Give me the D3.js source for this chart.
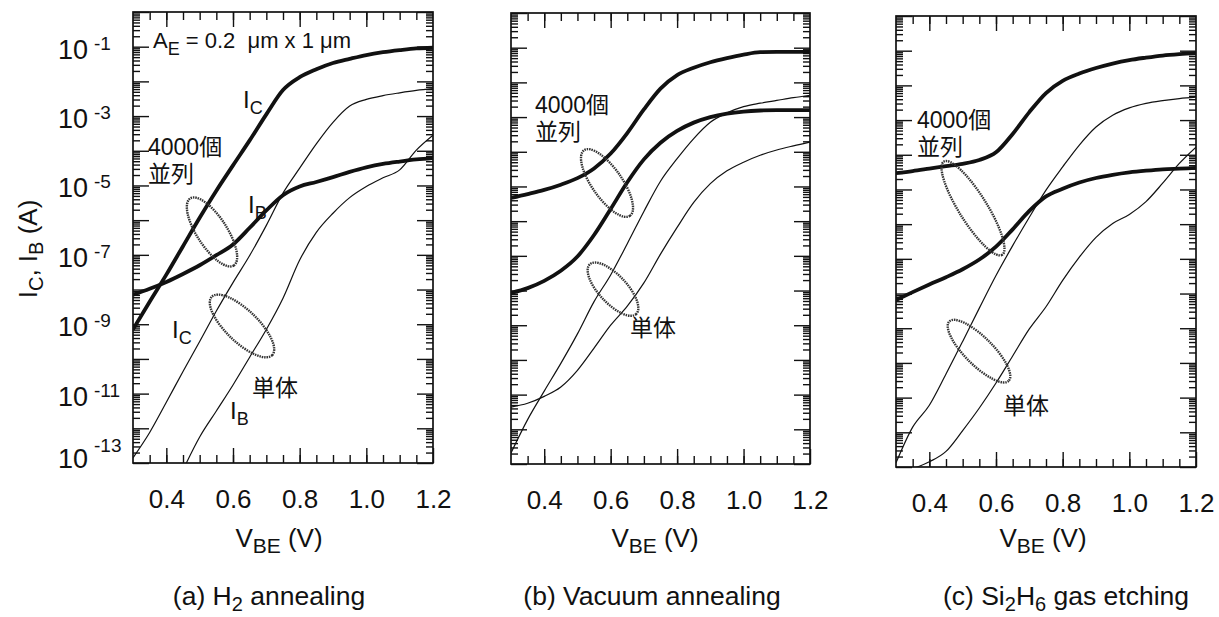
<!DOCTYPE html>
<html>
<head>
<meta charset="utf-8">
<script src="https://cdn.jsdelivr.net/npm/d3@7"></script>
<style>
  body { margin: 0; background: #fff; }
  svg text { font-family: "Liberation Sans", Arial, sans-serif; fill: #111; }
  svg text.jp { font-family: "Liberation Sans", "Noto Sans CJK JP", sans-serif; }
</style>
</head>
<body>
<div id="chart"></div>
<script>
// V_BE grid (V) shared by every curve
const vbe = [0.30, 0.35, 0.40, 0.45, 0.50, 0.55, 0.60, 0.65, 0.70, 0.75, 0.80, 0.85, 0.90, 0.95, 1.00, 1.05, 1.10, 1.15, 1.20];

// values are log10 of the current in A
// (a) H2 annealing
const icArrayA  = [-9.15, -8.35, -7.57, -6.75, -5.93, -5.15, -4.42, -3.70, -2.95, -2.25, -1.88, -1.65, -1.47, -1.35, -1.24, -1.16, -1.10, -1.05, -1.03];
const ibArrayA  = [-8.15, -7.98, -7.78, -7.55, -7.30, -7.01, -6.70, -6.22, -5.72, -5.28, -5.03, -4.90, -4.76, -4.61, -4.48, -4.38, -4.31, -4.25, -4.21];
const icSingleA = [-12.85, -12.12, -11.25, -10.36, -9.50, -8.62, -7.80, -7.02, -6.15, -5.22, -4.50, -3.80, -3.18, -2.71, -2.52, -2.41, -2.33, -2.26, -2.21];
const ibSingleA = [null, null, null, -13.2, -12.25, -11.50, -10.75, -9.95, -9.15, -8.25, -7.15, -6.35, -5.80, -5.35, -5.03, -4.78, -4.55, -3.98, -3.55];

// (b) Vacuum annealing
const icArrayB  = [-5.33, -5.22, -5.10, -4.95, -4.76, -4.48, -4.05, -3.46, -2.78, -2.18, -1.79, -1.58, -1.42, -1.30, -1.20, -1.13, -1.12, -1.12, -1.12];
const ibArrayB  = [-8.07, -7.93, -7.72, -7.43, -7.02, -6.40, -5.65, -4.88, -4.22, -3.74, -3.40, -3.16, -3.00, -2.90, -2.84, -2.81, -2.80, -2.80, -2.80];
const icSingleB = [-12.68, -11.72, -10.90, -10.10, -9.25, -8.32, -7.55, -6.65, -5.72, -4.85, -4.20, -3.62, -3.15, -2.88, -2.70, -2.60, -2.52, -2.44, -2.37];
const ibSingleB = [-11.36, -11.25, -11.05, -10.78, -10.30, -9.66, -9.00, -8.45, -7.78, -6.95, -6.18, -5.46, -4.92, -4.55, -4.30, -4.10, -3.95, -3.83, -3.72];

// (c) Si2H6 gas etching
const icArrayC  = [-4.53, -4.47, -4.40, -4.33, -4.26, -4.15, -3.93, -3.40, -2.77, -2.22, -1.87, -1.66, -1.50, -1.37, -1.27, -1.20, -1.14, -1.10, -1.07];
const ibArrayC  = [-8.19, -7.96, -7.74, -7.53, -7.30, -7.02, -6.65, -6.15, -5.62, -5.20, -4.98, -4.80, -4.67, -4.58, -4.51, -4.46, -4.42, -4.40, -4.38];
const icSingleC = [-12.88, -11.85, -11.22, -10.32, -9.38, -8.42, -7.48, -6.62, -5.80, -5.02, -4.35, -3.72, -3.20, -2.86, -2.65, -2.52, -2.44, -2.38, -2.34];
const ibSingleC = [null, -13.05, -12.85, -12.55, -11.95, -11.30, -10.58, -9.80, -9.02, -8.38, -7.62, -6.95, -6.38, -5.98, -5.72, -5.35, -4.82, -4.25, -3.78];

const xTickValues = [0.4, 0.6, 0.8, 1.0, 1.2];
const xTickLabels = ["0.4", "0.6", "0.8", "1.0", "1.2"];
const yTickExps = [-1, -3, -5, -7, -9, -11, -13];

const captions = [
  [["(a) H", 0], ["2", 1], [" annealing", 0]],
  [["(b) Vacuum annealing", 0]],
  [["(c) Si", 0], ["2", 1], ["H", 0], ["6", 1], [" gas etching", 0]]
];

const W = 1219, H = 617;

// frame of each panel plus where the notes sit (notes in data units: V, log10 I)
const panels = [
  { left: 133, right: 433, top: 12, bottom: 463, titleX: 279, capX: 269,
    series: [[icArrayA, true], [ibArrayA, true], [icSingleA, false], [ibSingleA, false]],
    rings: [{ v: 0.537, lg: -6.34, a: 40, b: 15, ang: 57 }, { v: 0.627, lg: -9.05, a: 42, b: 16, ang: 44 }],
    notes: [
      { v: 0.345, lg: -4.12, lines: ["4000個", "並列"], jp: true },
      { v: 0.657, lg: -11.07, lines: ["単体"], jp: true },
      { v: 0.630, lg: -2.77, t: "I", sub: "C" },
      { v: 0.645, lg: -5.80, t: "I", sub: "B" },
      { v: 0.417, lg: -9.40, t: "I", sub: "C" },
      { v: 0.591, lg: -11.72, t: "I", sub: "B" }
    ] },
  { left: 511, right: 810, top: 13, bottom: 464, titleX: 655, capX: 652,
    series: [[icArrayB, true], [ibArrayB, true], [icSingleB, false], [ibSingleB, false]],
    rings: [{ v: 0.589, lg: -4.90, a: 40, b: 15, ang: 55 }, { v: 0.607, lg: -7.96, a: 34, b: 14, ang: 47 }],
    notes: [
      { v: 0.372, lg: -2.88, lines: ["4000個", "並列"], jp: true },
      { v: 0.658, lg: -9.31, lines: ["単体"], jp: true }
    ] },
  { left: 896, right: 1196, top: 16, bottom: 467, titleX: 1043, capX: 1066,
    series: [[icArrayC, true], [ibArrayC, true], [icSingleC, false], [ibSingleC, false]],
    rings: [{ v: 0.531, lg: -5.54, a: 55, b: 14, ang: 58 }, { v: 0.549, lg: -9.66, a: 42, b: 14, ang: 45 }],
    notes: [
      { v: 0.363, lg: -3.23, lines: ["4000個", "並列"], jp: true },
      { v: 0.621, lg: -11.47, lines: ["単体"], jp: true }
    ] }
];

const svg = d3.select("#chart").append("svg")
  .attr("width", W).attr("height", H);

const majorY = d3.range(-13, 1).map(e => Math.pow(10, e));
const minorY = [];
d3.range(-13, 0).forEach(e => { for (let k = 2; k <= 9; k++) minorY.push(k * Math.pow(10, e)); });
const minorX = d3.range(7, 24).map(k => +(k * 0.05).toFixed(2));

panels.forEach((p, i) => {
  const x = d3.scaleLinear().domain([0.3, 1.2]).range([p.left, p.right]);
  const y = d3.scaleLog().domain([1e-13, 1]).range([p.bottom, p.top]);
  const g = svg.append("g");

  const clipId = "clip" + i;
  svg.append("clipPath").attr("id", clipId).append("rect")
    .attr("x", p.left).attr("y", p.top)
    .attr("width", p.right - p.left).attr("height", p.bottom - p.top);

  // ticks, all pointing inwards
  const tickStyle = sel => {
    sel.select(".domain").remove();
    sel.selectAll("line").attr("stroke", "#111").attr("stroke-width", 1.4);
  };
  g.append("g").attr("transform", `translate(${p.left},0)`)
    .call(d3.axisLeft(y).tickValues(majorY).tickSize(-16).tickFormat("")).call(tickStyle);
  g.append("g").attr("transform", `translate(${p.left},0)`)
    .call(d3.axisLeft(y).tickValues(minorY).tickSize(-7).tickFormat("")).call(tickStyle);
  g.append("g").attr("transform", `translate(${p.right},0)`)
    .call(d3.axisRight(y).tickValues(majorY).tickSize(-16).tickFormat("")).call(tickStyle);
  g.append("g").attr("transform", `translate(${p.right},0)`)
    .call(d3.axisRight(y).tickValues(minorY).tickSize(-7).tickFormat("")).call(tickStyle);
  g.append("g").attr("transform", `translate(0,${p.top})`)
    .call(d3.axisTop(x).tickValues(minorX).tickSize(-8).tickFormat("")).call(tickStyle);
  g.append("g").attr("transform", `translate(0,${p.top})`)
    .call(d3.axisTop(x).tickValues([0.4, 0.6, 0.8, 1.0]).tickSize(-15).tickFormat("")).call(tickStyle);
  g.append("g").attr("transform", `translate(0,${p.bottom})`)
    .call(d3.axisBottom(x).tickValues(minorX).tickSize(-8).tickFormat("")).call(tickStyle);

  const xAxis = g.append("g").attr("transform", `translate(0,${p.bottom})`)
    .call(d3.axisBottom(x).tickValues(xTickValues).tickSize(-15).tickPadding(27)
      .tickFormat((d, k) => xTickLabels[k]))
    .call(tickStyle);
  xAxis.selectAll("text").attr("font-size", 26).attr("fill", "#111")
    .attr("font-family", "Liberation Sans, Arial, sans-serif");

  g.append("rect")
    .attr("x", p.left).attr("y", p.top)
    .attr("width", p.right - p.left).attr("height", p.bottom - p.top)
    .attr("fill", "none").attr("stroke", "#111").attr("stroke-width", 1.7);

  // curves
  const line = d3.line()
    .defined(d => d[1] !== null)
    .x(d => x(d[0]))
    .y(d => y(Math.pow(10, d[1])))
    .curve(d3.curveMonotoneX);
  const curves = g.append("g").attr("clip-path", `url(#${clipId})`);
  p.series.forEach(([vals, thick]) => {
    curves.append("path")
      .attr("d", line(vbe.map((v, k) => [v, vals[k]])))
      .attr("fill", "none").attr("stroke", "#111")
      .attr("stroke-width", thick ? 3.8 : 1.2)
      .attr("stroke-linejoin", "round");
  });

  // dotted rings
  p.rings.forEach(r => {
    g.append("ellipse")
      .attr("transform", `translate(${x(r.v)},${y(Math.pow(10, r.lg))}) rotate(${r.ang})`)
      .attr("rx", r.a).attr("ry", r.b)
      .attr("fill", "none").attr("stroke", "#333")
      .attr("stroke-width", 2.4).attr("stroke-dasharray", "1.5 0.9");
  });

  // notes
  p.notes.forEach(n => {
    const px = x(n.v);
    const t = g.append("text")
      .attr("x", px).attr("y", y(Math.pow(10, n.lg)))
      .attr("font-size", n.jp ? 23 : 24);
    if (n.jp) {
      t.attr("class", "jp");
      n.lines.forEach((s, k) => {
        t.append("tspan").attr("x", px).attr("dy", k ? 27 : 0).text(s);
      });
    } else {
      t.append("tspan").text(n.t);
      t.append("tspan").attr("dy", 6).attr("font-size", 18).text(n.sub);
    }
  });

  // x axis title
  const xt = g.append("text").attr("x", p.titleX).attr("y", 547)
    .attr("text-anchor", "middle").attr("font-size", 26);
  xt.append("tspan").text("V");
  xt.append("tspan").attr("dy", 6).attr("font-size", 21).text("BE");
  xt.append("tspan").attr("dy", -6).text(" (V)");

  // caption
  const ct = g.append("text").attr("x", p.capX).attr("y", 605)
    .attr("text-anchor", "middle").attr("font-size", 26.5);
  captions[i].forEach(([s, sub], k) => {
    const prevSub = k > 0 && captions[i][k - 1][1];
    ct.append("tspan")
      .attr("dy", sub ? 6 : (prevSub ? -6 : 0))
      .attr("font-size", sub ? 20 : 26.5)
      .text(s);
  });

  if (i === 0) {
    // y tick labels 10^n
    yTickExps.forEach(e => {
      const yy = y(Math.pow(10, e));
      const last = e === -13;
      const t = g.append("text").attr("x", 58).attr("y", yy + (last ? 5 : 12))
        .attr("font-size", 27);
      t.append("tspan").text("10");
      t.append("tspan").attr("dx", 6).attr("dy", last ? -16 : -9)
        .attr("font-size", 19).text(String(e));
    });

    // y axis title
    const yt = g.append("text")
      .attr("transform", "translate(37,249) rotate(-90)")
      .attr("text-anchor", "middle").attr("font-size", 26);
    yt.append("tspan").text("I");
    yt.append("tspan").attr("dy", 6).attr("font-size", 20).text("C");
    yt.append("tspan").attr("dy", -6).text(", I");
    yt.append("tspan").attr("dy", 6).attr("font-size", 20).text("B");
    yt.append("tspan").attr("dy", -6).text(" (A)");

    // emitter area note
    const ae = g.append("text").attr("x", x(0.36)).attr("y", y(Math.pow(10, -1.04)))
      .attr("font-size", 22);
    ae.append("tspan").text("A");
    ae.append("tspan").attr("dy", 7).attr("font-size", 18).text("E");
    ae.append("tspan").attr("dy", -7).text(" = 0.2 ");
    ae.append("tspan").attr("dx", 6).text("μm x 1 μm");
  }
});
</script>
</body>
</html>
